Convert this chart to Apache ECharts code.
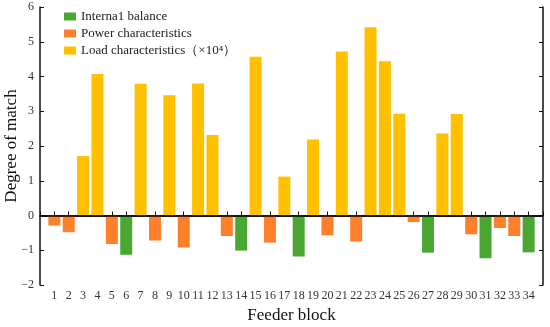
<!DOCTYPE html>
<html>
<head>
<meta charset="utf-8">
<script src="https://cdn.jsdelivr.net/npm/echarts@6/dist/echarts.min.js"></script>
<style>html,body{margin:0;padding:0;background:#fff}#c{width:550px;height:327px}</style>
</head>
<body>
<div id="c"></div>
<script>
var feeders = [1,2,3,4,5,6,7,8,9,10,11,12,13,14,15,16,17,18,19,20,21,22,23,24,25,26,27,28,29,30,31,32,33,34];
var internalBalance = [null,null,null,null,null,-1.13,null,null,null,null,null,null,null,-1.01,null,null,null,-1.18,null,null,null,null,null,null,null,null,-1.07,null,null,null,-1.23,null,null,-1.06];
var powerChar = [-0.29,-0.48,null,null,-0.82,null,null,-0.72,null,-0.92,null,null,-0.59,null,null,-0.78,null,null,null,-0.57,null,-0.75,null,null,null,-0.19,null,null,null,-0.54,null,-0.36,-0.59,null];
var loadChar = [null,null,1.71,4.07,null,null,3.79,null,3.46,null,3.80,2.32,null,null,4.57,null,1.12,null,2.19,null,4.72,null,5.42,4.44,2.93,null,null,2.36,2.92,null,null,null,null,null];
var seriesNames = ['Interna1 balance','Power characteristics','Load characteristics（×10⁴）'];
var yTicks = [-2,-1,0,1,2,3,4,5,6];

function pairs(arr){ return feeders.map(function(f,i){ return [f, arr[i]]; }).filter(function(p){ return p[1] !== null; }); }

var font = '"Liberation Serif", "Times New Roman", serif';
var chart = echarts.init(document.getElementById('c'));
var colors = ['#4aa832','#ff7f2a','#ffc000'];
chart.setOption({
  animation: false,
  textStyle: {fontFamily: font},
  grid: {left: 40, right: 7, top: 7, bottom: 42, containLabel: false, outerBoundsMode: 'none'},
  legend: {
    orient: 'vertical', left: 59, top: 5, itemWidth: 12, itemHeight: 8, itemGap: 4,
    textStyle: {fontFamily: font, fontSize: 13, color: '#222'},
    icon: 'rect',
    data: seriesNames
  },
  xAxis: {
    type: 'value', min: 0, max: 35, interval: 1,
    name: 'Feeder block', nameLocation: 'middle', nameGap: 22, nameMoveOverlap: false,
    nameTextStyle: {fontFamily: font, fontSize: 17, color: '#111'},
    axisLine: {lineStyle: {color: '#111', width: 1.5}},
    axisTick: {inside: true, length: 4, lineStyle: {color: '#111'}},
    axisLabel: {fontFamily: font, fontSize: 12, color: '#333', margin: 5,
      formatter: function(v){ return (v >= 1 && v <= 34) ? String(v) : ''; }},
    splitLine: {show: false}
  },
  yAxis: [{
    type: 'value', min: yTicks[0], max: yTicks[yTicks.length-1], interval: 1,
    name: 'Degree of match', nameLocation: 'middle', nameGap: 20, nameMoveOverlap: false,
    nameTextStyle: {fontFamily: font, fontSize: 17, color: '#111'},
    axisLine: {show: true, lineStyle: {color: '#111', width: 1.5}},
    axisTick: {show: true, inside: true, length: 4, lineStyle: {color: '#111'}},
    axisLabel: {fontFamily: font, fontSize: 12, color: '#333', margin: 6,
      formatter: function(v){ return v < 0 ? '\u2212' + Math.abs(v) : String(v); }},
    splitLine: {show: false}
  },{
    type: 'value', position: 'right', min: yTicks[0], max: yTicks[yTicks.length-1], interval: 1,
    axisLine: {show: true, lineStyle: {color: '#111', width: 1.5}},
    axisTick: {show: true, inside: true, length: 4, lineStyle: {color: '#111'}},
    axisLabel: {show: false},
    splitLine: {show: false}
  }],
  series: [
    {name: seriesNames[0], type: 'bar', barWidth: 12, barGap: '-100%', data: pairs(internalBalance), itemStyle: {color: colors[0]},
     markLine: {silent: true, symbol: 'none', label: {show: false}, lineStyle: {color: '#000', width: 1.5, type: 'solid'}, data: [{yAxis: 0}]}},
    {name: seriesNames[1], type: 'bar', barWidth: 12, barGap: '-100%', data: pairs(powerChar), itemStyle: {color: colors[1]}},
    {name: seriesNames[2], type: 'bar', barWidth: 12, barGap: '-100%', data: pairs(loadChar), itemStyle: {color: colors[2]}}
  ]
});
</script>
</body>
</html>
